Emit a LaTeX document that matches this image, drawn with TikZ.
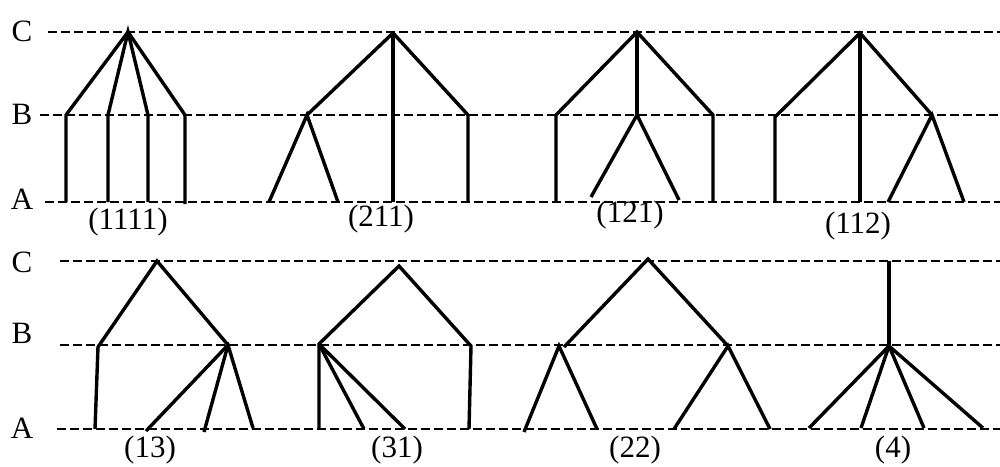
\documentclass[tikz,border=0pt]{standalone}
\usepackage{fontspec}
\setmainfont{Liberation Serif}
\begin{document}
\begin{tikzpicture}[x=1pt,y=-1pt,
  level/.style={line width=2pt,dash pattern=on 9pt off 4pt},
  edge/.style={line width=3.4pt,line cap=butt,line join=miter},
  lab/.style={font=\fontsize{31}{33}\selectfont,inner sep=0pt},
  lvl/.style={font=\fontsize{31}{33}\selectfont,inner sep=0pt}]
\useasboundingbox (0,0) rectangle (1000,466);
% level lines
\coordinate (C1s) at (48,32);  \coordinate (C1e) at (1000,32);
\coordinate (B1s) at (40,115); \coordinate (B1e) at (1000,115);
\coordinate (A1s) at (45,202); \coordinate (A1e) at (1000,202);
\coordinate (C2s) at (60,261);  \coordinate (C2e) at (1000,261);
\coordinate (B2s) at (60,345); \coordinate (B2e) at (1000,345);
\coordinate (A2s) at (57,429); \coordinate (A2e) at (1000,429);
\draw[level] (C1s) -- (C1e);
\draw[level] (B1s) -- (B1e);
\draw[level] (A1s) -- (A1e);
\draw[level] (C2s) -- (C2e);
\draw[level] (B2s) -- (B2e);
\draw[level] (A2s) -- (A2e);
\node[lvl] (lC1) at (22,31) {C};
\node[lvl] (lB1) at (22,114) {B};
\node[lvl] (lA1) at (22,199) {A};
\node[lvl] (lC2) at (22,262) {C};
\node[lvl] (lB2) at (22,333) {B};
\node[lvl] (lA2) at (22,428) {A};

% (1111)
\coordinate (a0) at (128,32);
\coordinate (a1) at (66,115);  \coordinate (a1d) at (66,202);
\coordinate (a2) at (108,115); \coordinate (a2d) at (108,202);
\coordinate (a3) at (148,115); \coordinate (a3d) at (148,202);
\coordinate (a4) at (185,115); \coordinate (a4d) at (185,204);
\draw[edge] (a1d) -- (a1) -- (a0) -- (a4) -- (a4d);
\draw[edge] (a2d) -- (a2) -- (a0) -- (a3) -- (a3d);
\node[lab] (na) at (128,222) {(1111)};

% (211)
\coordinate (b0) at (393,33);
\coordinate (b1) at (307,115);
\coordinate (b11) at (269,202); \coordinate (b12) at (338,202);
\coordinate (b2) at (393,202);
\coordinate (b3) at (468,115); \coordinate (b3d) at (468,202);
\draw[edge] (b11) -- (b1) -- (b12);
\draw[edge] (b1) -- (b0) -- (b3) -- (b3d);
\draw[edge] (b0) -- (b2);
\node[lab] (nb) at (381,219) {(211)};

% (121)
\coordinate (c0) at (637,32);
\coordinate (c1) at (556,115); \coordinate (c1d) at (556,202);
\coordinate (c2) at (637,115);
\coordinate (c21) at (591,197); \coordinate (c22) at (679,200);
\coordinate (c3) at (713,115); \coordinate (c3d) at (713,202);
\draw[edge] (c1d) -- (c1) -- (c0) -- (c3) -- (c3d);
\draw[edge] (c0) -- (c2);
\draw[edge] (c21) -- (c2) -- (c22);
\node[lab] (nc) at (630,215) {(121)};

% (112)
\coordinate (d0) at (860,33);
\coordinate (d1) at (775,117); \coordinate (d1d) at (775,202);
\coordinate (d2) at (860,202);
\coordinate (d3) at (932,115);
\coordinate (d31) at (888,202); \coordinate (d32) at (964,202);
\draw[edge] (d1d) -- (d1) -- (d0) -- (d3);
\draw[edge] (d0) -- (d2);
\draw[edge] (d31) -- (d3) -- (d32);
\node[lab] (nd) at (858,226) {(112)};

% (13)
\coordinate (e0) at (157,261);
\coordinate (e1) at (98,347); \coordinate (e1d) at (95,429);
\coordinate (e2) at (228,345);
\coordinate (e21) at (146,431); \coordinate (e22) at (204,432); \coordinate (e23) at (253,428);
\draw[edge] (e1d) -- (e1) -- (e0) -- (e2);
\draw[edge] (e21) -- (e2) -- (e23);
\draw[edge] (e2) -- (e22);
\node[lab] (ne) at (150,450) {(13)};

% (31)
\coordinate (f0) at (399,266);
\coordinate (f1) at (319,344);
\coordinate (f11) at (319,429); \coordinate (f12) at (364,429); \coordinate (f13) at (405,429);
\coordinate (f2) at (471,346); \coordinate (f2d) at (469,429);
\draw[edge] (f11) -- (f1) -- (f0) -- (f2) -- (f2d);
\draw[edge] (f1) -- (f12);
\draw[edge] (f1) -- (f13);
\node[lab] (nf) at (397,450) {(31)};

% (22)
\coordinate (g0) at (648,259);
\coordinate (g1e) at (564,347);
\coordinate (g1) at (559,346);
\coordinate (g11) at (524,432); \coordinate (g12) at (597,429);
\coordinate (g2) at (728,346);
\coordinate (g21) at (674,429); \coordinate (g22) at (770,429);
\draw[edge] (g1e) -- (g0) -- (g2);
\draw[edge] (g11) -- (g1) -- (g12);
\draw[edge] (g21) -- (g2) -- (g22);
\node[lab] (ng) at (635,450) {(22)};

% (4)
\coordinate (h0) at (889,261);
\coordinate (h1) at (889,346);
\coordinate (h11) at (809,428); \coordinate (h12) at (861,428);
\coordinate (h13) at (924,428); \coordinate (h14) at (983,428);
\draw[edge] (h0) -- (h1);
\draw[edge] (h11) -- (h1) -- (h14);
\draw[edge] (h1) -- (h12);
\draw[edge] (h1) -- (h13);
\node[lab] (nh) at (893,450) {(4)};
\end{tikzpicture}
\end{document}
